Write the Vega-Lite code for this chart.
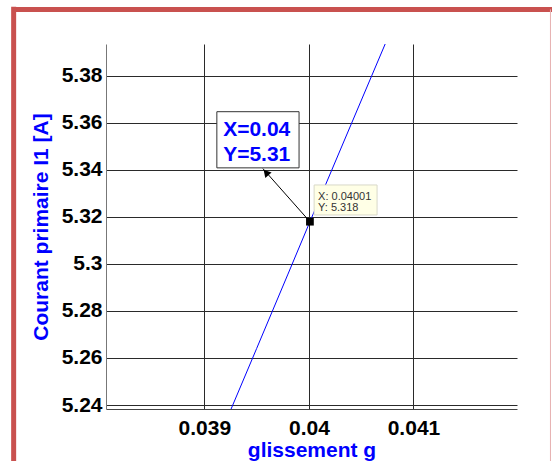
{
  "$schema": "https://vega.github.io/schema/vega-lite/v6.json",
  "width": 411,
  "height": 365,
  "autosize": {"type": "none"},
  "padding": {"left": 106, "top": 44, "right": 35, "bottom": 52},
  "background": "white",
  "config": {
    "view": {"stroke": null},
    "font": "Liberation Sans",
    "axis": {"labelFont": "Liberation Sans", "titleFont": "Liberation Sans"}
  },
  "layer": [
    {
      "data": {"values": [
        {"g": 0.03920, "i1": 5.2324},
        {"g": 0.03950, "i1": 5.2640},
        {"g": 0.03980, "i1": 5.2957},
        {"g": 0.04001, "i1": 5.3180},
        {"g": 0.04030, "i1": 5.3485},
        {"g": 0.04060, "i1": 5.3800},
        {"g": 0.04080, "i1": 5.4010}
      ]},
      "mark": {"type": "line", "color": "#0000ff", "strokeWidth": 1, "clip": true},
      "encoding": {
        "x": {
          "field": "g", "type": "quantitative",
          "scale": {"domain": [0.03806, 0.04199], "nice": false, "zero": false},
          "axis": {
            "values": [0.039, 0.04, 0.041], "format": "~g",
            "grid": true, "gridColor": "#2a2a2a", "gridOpacity": 1, "gridWidth": 1,
            "ticks": false, "domainColor": "#444", "domainWidth": 1,
            "labelFontSize": 21, "labelFontWeight": "bold", "labelColor": "#000",
            "labelPadding": 8,
            "title": "glissement g", "titleColor": "#0000ff", "titleFontSize": 21,
            "titleFontWeight": "bold", "titleY": 30
          }
        },
        "y": {
          "field": "i1", "type": "quantitative",
          "scale": {"domain": [5.2383, 5.3936], "nice": false, "zero": false},
          "axis": {
            "values": [5.24, 5.26, 5.28, 5.3, 5.32, 5.34, 5.36, 5.38], "format": "~g",
            "grid": true, "gridColor": "#2a2a2a", "gridOpacity": 1, "gridWidth": 1,
            "ticks": false, "domainColor": "#777", "domainWidth": 1,
            "labelFontSize": 21, "labelFontWeight": "bold", "labelColor": "#000",
            "labelPadding": 4,
            "title": "Courant primaire I1 [A]", "titleColor": "#0000ff", "titleFontSize": 21,
            "titleFontWeight": "bold", "titleX": -55
          }
        }
      }
    },
    {
      "data": {"values": [{"x0": 0.04001, "y0": 5.318, "x1": 0.03956, "y1": 5.3406}]},
      "mark": {"type": "rule", "color": "#000", "strokeWidth": 1},
      "encoding": {
        "x": {"field": "x0", "type": "quantitative"},
        "y": {"field": "y0", "type": "quantitative"},
        "x2": {"field": "x1"},
        "y2": {"field": "y1"}
      }
    },
    {
      "data": {"values": [{"x": 0.03959, "y": 5.3389}]},
      "mark": {"type": "point", "shape": "triangle-up", "filled": true, "color": "#000", "size": 70, "angle": 318, "opacity": 1},
      "encoding": {
        "x": {"field": "x", "type": "quantitative"},
        "y": {"field": "y", "type": "quantitative"}
      }
    },
    {
      "data": {"values": [{"x": 0.03912, "x2": 0.039906, "y": 5.3648, "y2": 5.3409}]},
      "mark": {"type": "rect", "fill": "white", "stroke": "#333", "strokeWidth": 1},
      "encoding": {
        "x": {"field": "x", "type": "quantitative"},
        "x2": {"field": "x2"},
        "y": {"field": "y", "type": "quantitative"},
        "y2": {"field": "y2"}
      }
    },
    {
      "data": {"values": [
        {"x": 0.03918, "y": 5.3570, "t": "X=0.04"},
        {"x": 0.03918, "y": 5.3464, "t": "Y=5.31"}
      ]},
      "mark": {"type": "text", "align": "left", "baseline": "middle", "fontSize": 21, "fontWeight": "bold", "color": "#0000ff"},
      "encoding": {
        "x": {"field": "x", "type": "quantitative"},
        "y": {"field": "y", "type": "quantitative"},
        "text": {"field": "t"}
      }
    },
    {
      "data": {"values": [{"x": 0.04005, "x2": 0.040652, "y": 5.33362, "y2": 5.32085}]},
      "mark": {"type": "rect", "fill": "#ffffe6", "stroke": "#d8d8c8", "strokeWidth": 1},
      "encoding": {
        "x": {"field": "x", "type": "quantitative"},
        "x2": {"field": "x2"},
        "y": {"field": "y", "type": "quantitative"},
        "y2": {"field": "y2"}
      }
    },
    {
      "data": {"values": [
        {"x": 0.040088, "y": 5.32851, "t": "X: 0.04001"},
        {"x": 0.040088, "y": 5.32383, "t": "Y: 5.318"}
      ]},
      "mark": {"type": "text", "align": "left", "baseline": "middle", "fontSize": 11, "color": "#333", "font": "Liberation Sans"},
      "encoding": {
        "x": {"field": "x", "type": "quantitative"},
        "y": {"field": "y", "type": "quantitative"},
        "text": {"field": "t"}
      }
    },
    {
      "data": {"values": [{"x": 0.04001, "y": 5.318}]},
      "mark": {"type": "point", "shape": "square", "filled": true, "color": "#000", "size": 60, "opacity": 1},
      "encoding": {
        "x": {"field": "x", "type": "quantitative"},
        "y": {"field": "y", "type": "quantitative"}
      }
    },
    {
      "data": {"values": [
        {"x": 0.037177, "x2": 0.0425, "y": 5.4083, "y2": 5.4083, "w": "thick"},
        {"x": 0.037177, "x2": 0.037177, "y": 5.4094, "y2": 5.20, "w": "thick"}
      ]},
      "mark": {"type": "rule", "color": "#c9514f", "strokeWidth": 5, "clip": false},
      "encoding": {
        "x": {"field": "x", "type": "quantitative"},
        "x2": {"field": "x2"},
        "y": {"field": "y", "type": "quantitative"},
        "y2": {"field": "y2"}
      }
    },
    {
      "data": {"values": [{"x": 0.04231, "y": 5.4083, "y2": 5.20}]},
      "mark": {"type": "rule", "color": "#e6b0b0", "strokeWidth": 1, "clip": false},
      "encoding": {
        "x": {"field": "x", "type": "quantitative"},
        "y": {"field": "y", "type": "quantitative"},
        "y2": {"field": "y2"}
      }
    }
  ]
}
